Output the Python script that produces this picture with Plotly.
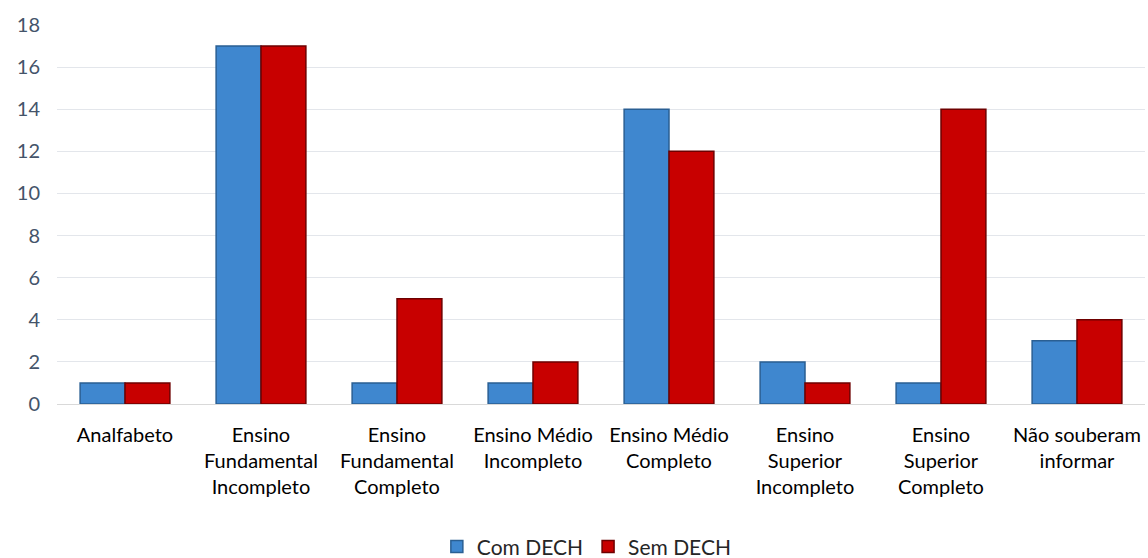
import plotly.graph_objects as go

categories = ["Analfabeto", "Ensino<br>Fundamental<br>Incompleto", "Ensino<br>Fundamental<br>Completo",
              "Ensino Médio<br>Incompleto", "Ensino Médio<br>Completo", "Ensino<br>Superior<br>Incompleto",
              "Ensino<br>Superior<br>Completo", "Não souberam<br>informar"]
com_dech = [1, 17, 1, 1, 14, 2, 1, 3]
sem_dech = [1, 17, 5, 2, 12, 1, 14, 4]
y_ticks = list(range(0, 19, 2))

fig = go.Figure()
fig.add_trace(go.Bar(x=categories, y=com_dech, name="Com DECH",
                     marker=dict(color="#3F87CF", line=dict(color="#2A5F93", width=1.5))))
fig.add_trace(go.Bar(x=categories, y=sem_dech, name="Sem DECH",
                     marker=dict(color="#C80000", line=dict(color="#6E0000", width=1.5))))

fig.update_layout(
    width=1148, height=558,
    margin=dict(l=57, r=3, t=25, b=154, autoexpand=False),
    paper_bgcolor="white", plot_bgcolor="white",
    barmode="group", bargap=0.34, bargroupgap=0,
    font=dict(family="Lato, Noto Sans, sans-serif", size=20, color="#000000"),
    showlegend=True,
    legend=dict(orientation="h", x=0.487, xanchor="center", yref="container", y=0.02, yanchor="middle",
                font=dict(size=21, color="#262626"), itemwidth=30),
    xaxis=dict(showgrid=False, showline=True, linecolor="#D9D9D9", linewidth=1,
               tickfont=dict(size=20, color="#000000"), ticks="", ticklabelstandoff=13),
    yaxis=dict(range=[0, 18], tickvals=y_ticks, showgrid=True, gridcolor="#E3E6EB",
               gridwidth=1, zeroline=False, showline=False,
               tickfont=dict(size=20, color="#44546A"), ticklabelstandoff=16),
)

fig.write_html("out.html")
